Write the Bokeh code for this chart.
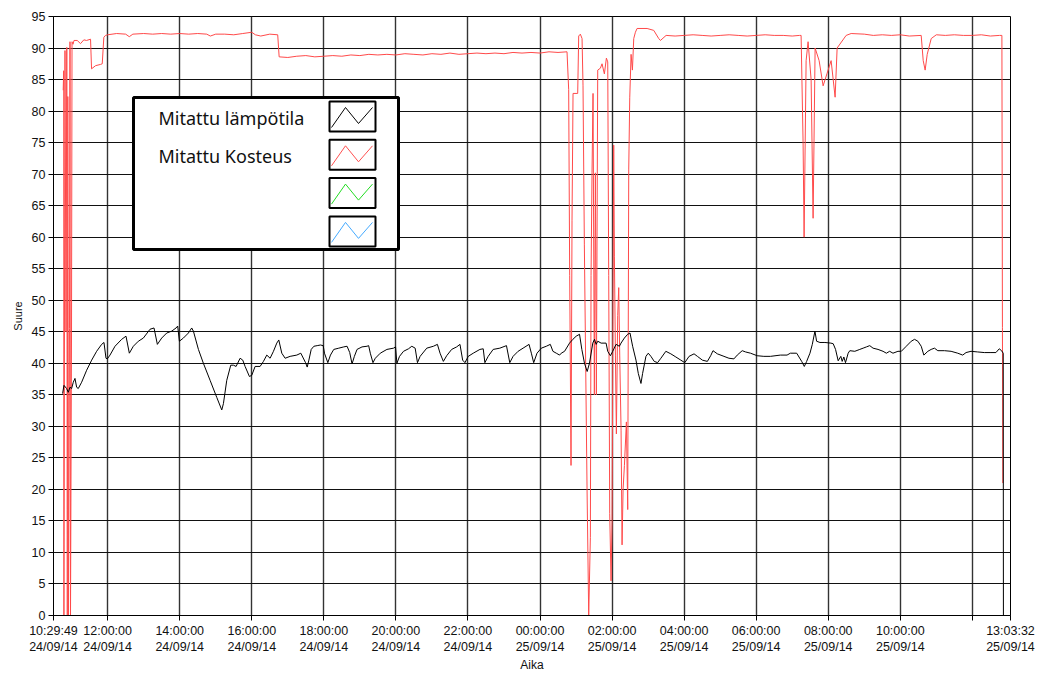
from bokeh.plotting import figure
from bokeh.models import Range1d, FixedTicker, LinearAxis
from bokeh.core.properties import value
from bokeh.embed import file_html
from bokeh.resources import INLINE

# ---------------- data (time in hours since 24/09/14 00:00) ----------------
X_START = 10 + 29 / 60 + 49 / 3600   # 10:29:49 24/09/14
X_END = 37 + 3 / 60 + 32 / 3600      # 13:03:32 25/09/14

temp_time = [
    10.75, 10.787, 10.861, 10.907, 10.954, 11.0, 11.046, 11.093, 11.139, 11.185, 11.278, 11.417,
    11.556, 11.694, 11.833, 11.898, 11.954, 11.991, 12.065, 12.204, 12.389, 12.509, 12.602, 12.713,
    12.852, 12.991, 13.176, 13.287, 13.38, 13.5, 13.639, 13.778, 13.898, 13.944, 13.991, 14.102,
    14.241, 14.333, 14.38, 14.519, 14.657, 14.843, 15.028, 15.167, 15.213, 15.306, 15.417, 15.491,
    15.565, 15.676, 15.75, 15.815, 15.935, 16.0, 16.093, 16.231, 16.324, 16.417, 16.509, 16.602,
    16.694, 16.75, 16.833, 16.926, 17.065, 17.25, 17.361,
    17.493, 17.539, 17.585, 17.65, 17.724, 17.816, 17.908, 17.982, 18.018, 18.111, 18.184, 18.276,
    18.415, 18.553, 18.645, 18.719, 18.783, 18.848, 18.922, 19.06, 19.198, 19.244, 19.29, 19.364,
    19.429, 19.567, 19.751, 19.935, 19.991, 20.028, 20.101, 20.212, 20.35, 20.442, 20.535, 20.599,
    20.673, 20.857, 21.041, 21.152, 21.226, 21.318, 21.41, 21.548, 21.687, 21.779, 21.853, 21.917,
    22.009, 22.147, 22.332, 22.424, 22.47, 22.562, 22.7, 22.885, 23.069, 23.161, 23.253, 23.392,
    23.53, 23.696, 23.76, 23.825, 23.917, 24.037, 24.175, 24.286, 24.359, 24.452, 24.544,
    24.59, 24.682, 24.82, 24.912, 25.005, 25.097, 25.161, 25.235, 25.309, 25.373, 25.465, 25.512,
    25.558, 25.604, 25.696, 25.834, 25.88, 25.954, 26.018, 26.111, 26.203, 26.249, 26.341, 26.433,
    26.498, 26.571, 26.664, 26.728, 26.802, 26.848, 26.94, 27.005, 27.078, 27.171, 27.263, 27.355,
    27.493, 27.631, 27.77, 27.908, 28.018, 28.138, 28.276, 28.369, 28.507, 28.645, 28.737, 28.802,
    28.922, 29.106, 29.244, 29.382, 29.475, 29.613, 29.705, 29.843, 30.028, 30.212, 30.396, 30.673,
    30.857, 30.949,
    31.124, 31.263, 31.336, 31.401, 31.493, 31.558, 31.631, 31.677, 31.77, 31.908, 32.074, 32.138,
    32.203, 32.276, 32.35, 32.387, 32.433, 32.479, 32.553, 32.599, 32.737, 32.876, 32.968, 33.06,
    33.152, 33.244, 33.382, 33.521, 33.613, 33.705, 33.797, 33.935, 34.028, 34.166, 34.304, 34.396,
    34.488, 34.581, 34.654, 34.765, 34.857, 34.949, 35.041, 35.226, 35.41, 35.594, 35.733, 35.825,
    35.963, 36.147, 36.332, 36.516, 36.654, 36.747, 36.811, 36.857, 36.862, X_END,
]
temp_value = [
    35.2, 36.5, 36.0, 35.4, 36.2, 36.0, 37.0, 37.6, 36.2, 36.0, 37.0, 38.9,
    40.5, 41.9, 43.0, 43.3, 40.8, 40.7, 41.3, 42.7, 43.8, 44.3, 41.6, 42.7,
    43.5, 44.0, 45.4, 45.6, 43.0, 44.0, 44.8, 45.1, 45.6, 45.9, 43.5, 44.0,
    44.8, 45.6, 45.1, 42.2, 40.0, 37.3, 34.6, 32.6, 33.6, 37.3, 39.7, 39.7,
    39.5, 40.8, 40.5, 39.5, 37.9, 38.1, 39.5, 39.5, 40.3, 41.3, 40.8, 41.9,
    43.2, 43.7, 41.6, 40.8, 41.1, 41.3, 41.6,
    40.1, 39.4, 40.5, 42.2, 42.7, 42.8, 42.9, 42.8, 41.6, 40.1, 41.3, 42.2,
    42.4, 42.6, 42.7, 41.7, 39.9, 41.1, 42.2, 42.6, 42.7, 42.8, 41.6, 40.1,
    40.8, 41.6, 42.2, 42.4, 42.6, 40.0, 41.1, 41.9, 42.3, 42.7, 42.4, 40.1,
    41.1, 42.4, 42.7, 43.0, 41.6, 40.3, 41.2, 42.2, 42.6, 43.0, 40.5, 40.1,
    41.1, 41.6, 42.2, 42.3, 40.1, 41.1, 42.2, 42.4, 42.8, 40.1, 41.1, 41.9,
    42.4, 43.0, 41.6, 40.1, 41.6, 42.4, 42.7, 43.0, 41.9, 41.6, 41.3,
    41.6, 41.9, 43.2, 43.8, 44.3, 44.6, 42.2, 40.0, 38.7, 40.0, 43.2, 43.8,
    43.0, 43.5, 43.2, 43.2, 41.9, 41.2, 41.9, 43.0, 42.7, 43.2, 44.0, 44.6,
    44.8, 42.7, 40.5, 38.4, 36.8, 38.4, 41.1, 41.6, 41.1, 40.3, 40.1, 40.8,
    41.9, 41.5, 41.0, 40.5, 40.1, 41.1, 41.5, 41.1, 40.5, 40.3, 41.2, 42.0,
    41.5, 41.1, 40.8, 40.7, 41.3, 42.0, 41.8, 41.6, 41.2, 41.1, 41.1, 41.3,
    41.3, 41.6,
    41.6, 40.3, 39.5, 40.3, 41.6, 43.0, 45.1, 43.5, 43.3, 43.3, 43.2, 43.1,
    42.2, 40.4, 41.1, 40.3, 41.0, 40.1, 41.6, 42.0, 41.9, 42.2, 42.4, 42.6,
    42.8, 42.4, 42.2, 41.9, 41.6, 41.9, 41.6, 41.9, 41.9, 42.7, 43.5, 43.8,
    43.5, 42.7, 41.3, 41.9, 42.2, 42.4, 42.0, 42.0, 41.9, 41.6, 41.3, 41.7,
    41.9, 41.8, 41.7, 41.7, 41.7, 42.3, 42.0, 41.6, 0.0, 0.0,
]

hum_time = [
    10.766, 10.78, 10.786, 10.816, 10.844, 10.866, 10.88, 10.894, 10.914, 10.941, 10.955, 10.969,
    10.997, 11.011, 11.039, 11.066, 11.155, 11.247, 11.339, 11.414, 11.525, 11.553, 11.664, 11.803,
    11.85, 11.894, 11.941,
    12.0, 12.25, 12.5, 12.6, 12.7, 13.0, 13.25, 13.5, 13.75, 14.0, 14.25, 14.5, 14.75, 14.85, 15.0,
    15.25, 15.5, 15.75, 16.0, 16.1, 16.25, 16.5, 16.72,
    16.76, 17.0, 17.25, 17.5, 17.75, 18.0, 18.25, 18.5, 18.75, 19.0, 19.25, 19.5, 19.75, 20.0,
    20.25, 20.5, 20.75, 21.0, 21.25, 21.5, 21.75, 22.0, 22.25, 22.5, 22.75, 23.0, 23.25, 23.5,
    23.75, 24.0, 24.25, 24.5, 24.75,
    24.796, 24.824, 24.861, 24.889, 24.917, 25.046, 25.074, 25.12, 25.167, 25.194, 25.231, 25.306,
    25.352, 25.398, 25.417, 25.444, 25.472, 25.509, 25.537, 25.565, 25.602, 25.676, 25.722, 25.787,
    25.843, 25.88, 25.907, 25.935, 25.972, 26.0, 26.046, 26.065, 26.093, 26.12, 26.157, 26.185,
    26.213, 26.25, 26.278, 26.306, 26.343, 26.398, 26.435, 26.463, 26.491, 26.528, 26.565, 26.602,
    26.648, 26.694, 26.972, 27.157, 27.296, 27.343,
    27.5, 27.75, 28.0, 28.25, 28.5, 28.75, 29.0, 29.25, 29.5, 29.75, 30.0, 30.25, 30.5, 30.75,
    31.0, 31.2,
    31.247, 31.302, 31.33, 31.386, 31.441, 31.525, 31.58, 31.636, 31.747, 31.858, 31.969, 32.08,
    32.191, 32.247, 32.497, 32.636,
    33.0, 33.25, 33.5, 33.75, 34.0, 34.25, 34.58, 34.636, 34.69, 34.747, 34.858, 35.0, 35.25,
    35.5, 35.75, 36.0, 36.25, 36.5, 36.75, 36.82, 36.835, 36.845,
]
hum_value = [
    83.3, 86.4, 0.0, 89.6, 45.0, 90.1, 0.0, 82.3, 0.0, 45.5, 91.0, 0.0,
    45.0, 91.0, 90.6, 91.2, 91.2, 90.7, 91.3, 91.2, 91.4, 86.7, 87.2, 87.4,
    87.5, 91.7, 92.0,
    92.1, 92.3, 92.2, 91.8, 92.2, 92.3, 92.2, 92.3, 92.2, 92.3, 92.2, 92.3, 92.2, 91.9, 92.2,
    92.2, 92.1, 92.3, 92.5, 92.1, 91.9, 92.2, 92.1,
    88.6, 88.5, 88.7, 88.8, 88.6, 88.7, 88.8, 88.7, 88.9, 88.8, 89.0, 88.9, 89.0, 88.9,
    89.1, 89.0, 88.9, 89.1, 89.0, 89.2, 89.0, 89.1, 89.2, 89.1, 89.2, 89.1, 89.3, 89.2,
    89.3, 89.2, 89.4, 89.3, 89.4,
    83.4, 53.9, 23.8, 62.7, 82.8, 82.8, 91.9, 92.2, 91.5, 84.0, 58.9, 20.0,
    0.0, 12.4, 53.9, 70.2, 82.8, 35.0, 70.2, 35.0, 86.5, 86.8, 87.5, 85.9,
    88.4, 87.8, 53.9, 16.2, 5.5, 15.0, 74.6, 57.0, 41.3, 28.8, 47.6, 52.0,
    41.3, 29.4, 11.2, 20.0, 23.8, 30.7, 16.8, 70.8, 82.1, 89.0, 86.5, 91.5,
    92.5, 93.1, 93.1, 92.8, 91.5, 91.2,
    92.0, 91.9, 92.0, 92.1, 92.0, 91.9, 92.0, 92.1, 92.0, 91.9, 92.0, 92.1, 92.0, 92.0,
    91.9, 92.0,
    92.0, 75.0, 60.0, 88.0, 91.0, 85.0, 63.0, 90.0, 88.0, 84.0, 86.0, 88.0,
    82.2, 90.0, 92.0, 92.3,
    92.2, 92.0, 92.1, 92.0, 92.1, 91.9, 92.0, 88.0, 86.5, 89.0, 91.5, 92.1, 92.0,
    92.1, 92.0, 92.0, 92.1, 91.9, 92.0, 92.0, 45.7, 21.0,
]

x_ticks = [X_START, 12, 14, 16, 18, 20, 22, 24, 26, 28, 30, 32, 34, 36, X_END]
x_time_labels = [
    "10:29:49", "12:00:00", "14:00:00", "16:00:00", "18:00:00", "20:00:00", "22:00:00",
    "00:00:00", "02:00:00", "04:00:00", "06:00:00", "08:00:00", "10:00:00", "", "13:03:32",
]
x_date_labels = [
    "24/09/14", "24/09/14", "24/09/14", "24/09/14", "24/09/14", "24/09/14", "24/09/14",
    "25/09/14", "25/09/14", "25/09/14", "25/09/14", "25/09/14", "25/09/14", "", "25/09/14",
]
y_ticks = [0, 5, 10, 15, 20, 25, 30, 35, 40, 45, 50, 55, 60, 65, 70, 75, 80, 85, 90, 95]

legend_labels = ["Mitattu lämpötila", "Mitattu Kosteus", "", ""]
legend_colors = ["#000000", "#ff5050", "#22dd22", "#44aaff"]

TEMP_COLOR = "#000000"
HUM_COLOR = "#ff4a4a"
AXIS_FONT = "Liberation Sans"
LEGEND_FONT = "Noto Sans"
TEXT_COLOR = "#111111"

# ---------------- figure ----------------
W, H = 1038, 675
BL, BR, BT, BB = 53, 28, 16, 60
FW, FH = W - BL - BR, H - BT - BB
Y_MIN, Y_MAX = 0, 95

p = figure(width=W, height=H, x_range=Range1d(X_START, X_END), y_range=Range1d(Y_MIN, Y_MAX),
           output_backend="svg", toolbar_location=None,
           min_border_left=BL, min_border_right=BR, min_border_top=BT, min_border_bottom=BB,
           background_fill_color="white", border_fill_color="white")

p.outline_line_color = "#000000"
p.outline_line_width = 1

p.xaxis.ticker = FixedTicker(ticks=x_ticks)
p.xaxis.major_label_overrides = {t: lab for t, lab in zip(x_ticks, x_time_labels)}
p.yaxis.ticker = FixedTicker(ticks=y_ticks)

# second "below" axis carrying the date line of the tick labels and the axis title
date_axis = LinearAxis(ticker=FixedTicker(ticks=x_ticks),
                       major_label_overrides={t: lab for t, lab in zip(x_ticks, x_date_labels)})
p.add_layout(date_axis, "below")

for ax in (p.xaxis[0], p.yaxis[0], date_axis):
    ax.axis_line_color = "#000000"
    ax.major_tick_line_color = "#000000"
    ax.major_tick_out = 5
    ax.major_tick_in = 0
    ax.minor_tick_line_color = None
    ax.major_label_text_font = AXIS_FONT
    ax.major_label_text_font_size = "12.5px"
    ax.major_label_text_color = TEXT_COLOR
    ax.axis_label_text_font = AXIS_FONT
    ax.axis_label_text_font_style = "normal"
    ax.axis_label_text_color = TEXT_COLOR
    ax.major_label_standoff = 3

p.xaxis[0].major_label_standoff = 3
date_axis.axis_line_color = None
date_axis.major_tick_line_color = None
date_axis.major_tick_out = 0
date_axis.major_label_standoff = -1
date_axis.axis_label = "Aika"
date_axis.axis_label_text_font_size = "12px"
date_axis.axis_label_standoff = 1

p.yaxis.axis_label = "Suure"
p.yaxis.axis_label_text_font_size = "11px"
p.yaxis.axis_label_standoff = 5

p.xgrid.grid_line_color = "#333333"
p.xgrid.grid_line_width = 1.4
p.ygrid.grid_line_color = "#111111"
p.ygrid.grid_line_width = 1.2

p.line(hum_time, hum_value, line_color=HUM_COLOR, line_width=1)
p.line(temp_time, temp_value, line_color=TEMP_COLOR, line_width=1)


# ---------------- legend (drawn at frame pixel positions) ----------------
def fx(px):
    return X_START + px * (X_END - X_START) / FW


def fy(py):
    return Y_MAX - py * (Y_MAX - Y_MIN) / FH


p.quad(left=[fx(80)], right=[fx(345)], top=[fy(81)], bottom=[fy(233)],
       fill_color="white", line_color="black", line_width=3)

sw_left, sw_w, sw_h = 276, 46, 30
for i, (lab, col) in enumerate(zip(legend_labels, legend_colors)):
    top = 85 + 38.3 * i
    p.quad(left=[fx(sw_left)], right=[fx(sw_left + sw_w)], top=[fy(top)], bottom=[fy(top + sw_h)],
           fill_color="white", line_color="black", line_width=2)
    zx = [sw_left + 2, sw_left + 16, sw_left + 29, sw_left + 43]
    zy = [top + 26, top + 6, top + 22, top + 6]
    p.line([fx(v) for v in zx], [fy(v) for v in zy], line_color=col, line_width=1)
    if lab:
        p.text(x=[fx(105)], y=[fy(top + 16)], text=[lab], text_font=value(LEGEND_FONT),
               text_font_size="18px", text_baseline="middle", text_align="left",
               text_color=TEXT_COLOR)

open("out.html", "w").write(file_html(p, INLINE))
